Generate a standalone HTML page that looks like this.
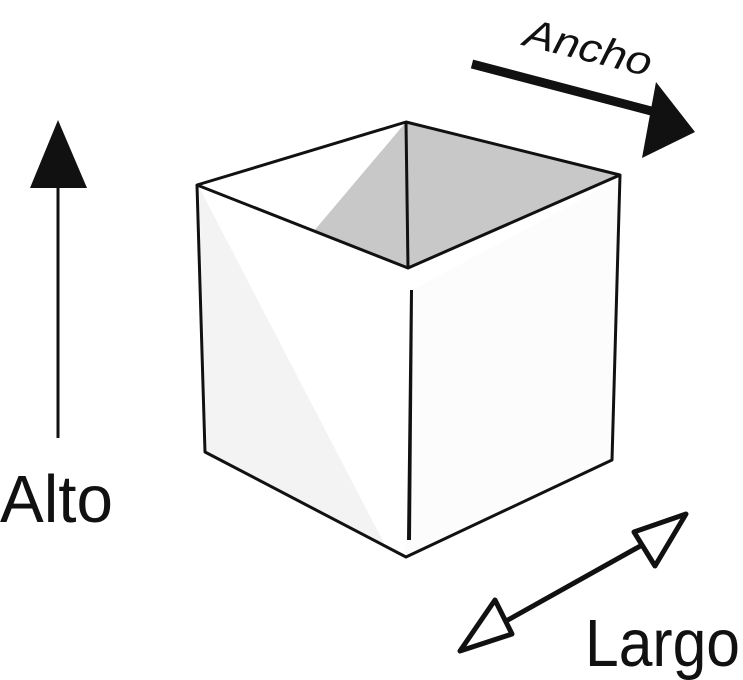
<!DOCTYPE html>
<html><head><style>body{margin:0;background:#fff}svg{display:block}</style></head><body>
<svg width="743" height="680" viewBox="0 0 743 680" xmlns="http://www.w3.org/2000/svg">
<rect width="743" height="680" fill="#fff"/>
<polygon points="406,122 620,175 408,268 313,232" fill="#c8c8c8"/>
<polygon points="199,187 207,452 385,545" fill="#f3f3f3"/>
<polygon points="412,290 406,555 612,460 618,180" fill="#fcfcfc"/>
<g stroke="#111" stroke-width="3" fill="none" stroke-linejoin="round">
<polygon points="197,185 406,122 620,175 408,268"/>
<line x1="406" y1="122" x2="408" y2="268"/>
<polyline points="197,185 205,452 406,557 612,460 620,175"/>
</g>
<polygon points="410,290 413,290 411,540 407,540" fill="#111"/>
<line x1="58" y1="180" x2="58" y2="438" stroke="#111" stroke-width="3"/>
<polygon points="30,188 87,188 58,120" fill="#111"/>
<text x="0" y="0" transform="translate(0,522) scale(1,1.15)" font-family="Liberation Sans Narrow, Liberation Sans, sans-serif" font-size="58" fill="#111" textLength="113" lengthAdjust="spacingAndGlyphs">Alto</text>
<line x1="472" y1="64" x2="655" y2="112" stroke="#111" stroke-width="9"/>
<polygon points="642,158 695,132 656,82" fill="#111"/>
<text x="0" y="0" transform="translate(522,45) rotate(14)" font-family="Liberation Sans, sans-serif" font-style="italic" font-size="40" fill="#111" textLength="130" lengthAdjust="spacingAndGlyphs">Ancho</text>
<line x1="490" y1="630" x2="660" y2="535" stroke="#111" stroke-width="5"/>
<polygon points="686,514 634,532 655,566" fill="#fff" stroke="#111" stroke-width="5" stroke-linejoin="round"/>
<polygon points="460,651 495,600 512,634" fill="#fff" stroke="#111" stroke-width="5" stroke-linejoin="round"/>
<text x="0" y="0" transform="translate(585,666) scale(1,1.15)" font-family="Liberation Sans Narrow, Liberation Sans, sans-serif" font-size="58" fill="#111" textLength="155" lengthAdjust="spacingAndGlyphs">Largo</text>
</svg>
</body></html>
